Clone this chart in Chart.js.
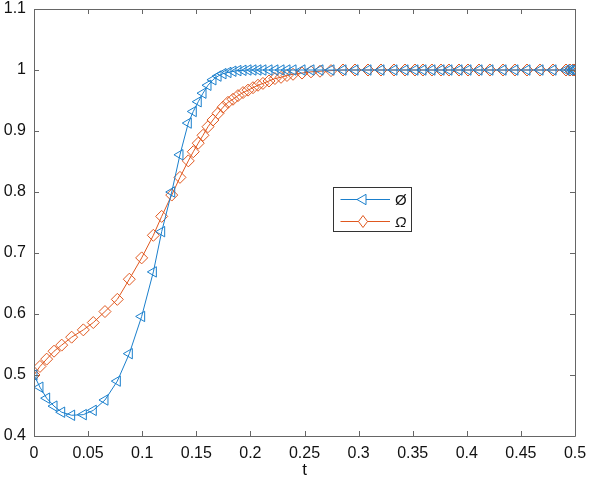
<!DOCTYPE html>
<html><head><meta charset="utf-8">
<script src="https://cdn.jsdelivr.net/npm/chart.js@4/dist/chart.umd.min.js"></script>
<style>html,body{margin:0;padding:0;background:#fff;} #wrap{width:590px;height:488px;}</style>
</head><body><div id="wrap"><canvas id="c" width="590" height="488"></canvas></div>
<script>
const tValues = [0, 0.0055, 0.0117, 0.0185, 0.0256, 0.0348, 0.0456, 0.0548, 0.0656, 0.0770,
  0.0881, 0.0995, 0.1103, 0.1180, 0.1273, 0.1349, 0.1426, 0.1472, 0.1518, 0.1562,
  0.1608, 0.1654, 0.1701, 0.1747, 0.1793, 0.1839, 0.1885, 0.1932, 0.1978, 0.2024,
  0.2070, 0.2116, 0.2172, 0.2227, 0.2283, 0.2338, 0.2394, 0.2477, 0.2560, 0.2643,
  0.2745, 0.2856, 0.2967, 0.3087, 0.3207, 0.3327, 0.3429, 0.3521, 0.3595, 0.3678,
  0.3762, 0.3835, 0.3928, 0.4011, 0.4113, 0.4214, 0.4335, 0.4445, 0.4556, 0.4677,
  0.4797, 0.4917, 0.4954, 0.4982, 0.5];
const phiValues = [0.5, 0.480, 0.462, 0.449, 0.439, 0.434, 0.435, 0.442, 0.459, 0.490,
  0.535, 0.596, 0.669, 0.735, 0.800, 0.861, 0.913, 0.932, 0.948, 0.962,
  0.975, 0.984, 0.990, 0.994, 0.996, 0.998, 0.999, 0.9995, 1, 1,
  1, 1, 1, 1, 1, 1, 1, 1, 1, 1,
  1, 1, 1, 1, 1, 1, 1, 1, 1, 1,
  1, 1, 1, 1, 1, 1, 1, 1, 1, 1,
  1, 1, 1, 1, 1];
const omegaValues = [0.5, 0.514, 0.526, 0.539, 0.549, 0.562, 0.574, 0.586, 0.604, 0.624,
  0.657, 0.692, 0.729, 0.760, 0.795, 0.824, 0.851, 0.866, 0.880, 0.893,
  0.907, 0.918, 0.929, 0.939, 0.947, 0.952, 0.958, 0.963, 0.967, 0.971,
  0.975, 0.978, 0.982, 0.986, 0.988, 0.991, 0.993, 0.995, 0.997, 0.998,
  0.999, 1, 1, 1, 1, 1, 1, 1, 1, 1,
  1, 1, 1, 1, 1, 1, 1, 1, 1, 1,
  1, 1, 1, 1, 1];
const xTicks = [0, 0.05, 0.1, 0.15, 0.2, 0.25, 0.3, 0.35, 0.4, 0.45, 0.5];
const yTicks = [0.4, 0.5, 0.6, 0.7, 0.8, 0.9, 1, 1.1];
const seriesLabels = ['Ø', 'Ω'];
const xTitle = 't';

const BLUE = '#1a7fcc';
const ORANGE = '#e0581f';
const AXIS = '#666666';
const FONT = 'Liberation Sans, Arial, sans-serif';

const toPts = (ys) => tValues.map((t, i) => ({x: t, y: ys[i]}));

const frame = {
  id: 'frame',
  afterDatasetsDraw(chart) {
    const {ctx, chartArea: a, scales} = chart;
    ctx.save();
    ctx.strokeStyle = AXIS;
    ctx.lineWidth = 1;
    ctx.beginPath();
    ctx.rect(Math.round(a.left) + 0.5, Math.round(a.top) + 0.5,
             Math.round(a.right - a.left), Math.round(a.bottom - a.top));
    const L = 5;
    xTicks.forEach(v => {
      const x = Math.round(scales.x.getPixelForValue(v)) + 0.5;
      ctx.moveTo(x, a.bottom); ctx.lineTo(x, a.bottom - L);
      ctx.moveTo(x, a.top); ctx.lineTo(x, a.top + L);
    });
    yTicks.forEach(v => {
      const y = Math.round(scales.y.getPixelForValue(v)) + 0.5;
      ctx.moveTo(a.left, y); ctx.lineTo(a.left + L, y);
      ctx.moveTo(a.right, y); ctx.lineTo(a.right - L, y);
    });
    ctx.stroke();

    // legend box
    const W = a.right - a.left, H = a.bottom - a.top;
    const bx = a.left + W * 0.5527, by = a.top + H * 0.417;
    const bw = 78, bh = 44;
    ctx.fillStyle = '#fff';
    ctx.fillRect(bx, by, bw, bh);
    ctx.strokeStyle = '#333';
    ctx.strokeRect(Math.round(bx) + 0.5, Math.round(by) + 0.5, bw, bh);
    const rows = [by + 11.5, by + 33.5];
    chart.data.datasets.forEach((ds, i) => {
      const y = Math.round(rows[i]) + 0.5;
      const x0 = bx + 7.5, x1 = bx + 57, xm = bx + 30;
      ctx.strokeStyle = ds.borderColor;
      ctx.lineWidth = 1;
      ctx.beginPath(); ctx.moveTo(x0, y); ctx.lineTo(x1, y); ctx.stroke();
      ctx.fillStyle = '#fff';
      ctx.beginPath();
      const r = 6;
      if (i === 0) {
        ctx.moveTo(xm - r, y);
        ctx.lineTo(xm + r / 2, y - r * 0.866);
        ctx.lineTo(xm + r / 2, y + r * 0.866);
      } else {
        ctx.moveTo(xm, y - r); ctx.lineTo(xm + r * 0.75, y);
        ctx.lineTo(xm, y + r); ctx.lineTo(xm - r * 0.75, y);
      }
      ctx.closePath(); ctx.fill(); ctx.stroke();
      ctx.fillStyle = '#111';
      ctx.font = (i === 0 ? '' : 'italic ') + '15px ' + FONT;
      ctx.textBaseline = 'middle';
      ctx.textAlign = 'left';
      ctx.fillText(ds.label, bx + 62, y + 1);
    });
    ctx.restore();
  }
};

new Chart(document.getElementById('c'), {
  type: 'line',
  data: {
    datasets: [
      {label: seriesLabels[0], data: toPts(phiValues), borderColor: BLUE, backgroundColor: 'transparent',
       borderWidth: 1, pointStyle: 'triangle', pointRotation: -90, pointRadius: 6,
       pointBorderColor: BLUE, pointBackgroundColor: 'rgba(0,0,0,0)', pointBorderWidth: 1, tension: 0},
      {label: seriesLabels[1], data: toPts(omegaValues), borderColor: ORANGE, backgroundColor: 'transparent',
       borderWidth: 1, pointStyle: 'rectRot', pointRadius: 6,
       pointBorderColor: ORANGE, pointBackgroundColor: 'rgba(0,0,0,0)', pointBorderWidth: 1, tension: 0}
    ]
  },
  options: {
    responsive: false,
    animation: false,
    devicePixelRatio: 1,
    layout: {padding: {top: 9, right: 15, left: 0, bottom: 0}},
    plugins: {legend: {display: false}, tooltip: {enabled: false}},
    elements: {line: {fill: false}},
    scales: {
      x: {
        type: 'linear', min: 0, max: 0.5,
        afterBuildTicks: s => { s.ticks = xTicks.map(v => ({value: v})); },
        afterFit: s => { s.height = 52; s.paddingLeft = 0; s.paddingRight = 0; },
        grid: {display: false, drawTicks: false},
        border: {display: false},
        ticks: {color: '#111', font: {family: FONT, size: 16}, padding: 8, maxRotation: 0,
                autoSkip: false, callback: v => String(v)},
        title: {display: true, text: xTitle, color: '#111', font: {family: FONT, size: 17},
                padding: {top: 0, bottom: 7}}
      },
      y: {
        type: 'linear', min: 0.4, max: 1.1,
        afterBuildTicks: s => { s.ticks = yTicks.map(v => ({value: v})); },
        afterFit: s => { s.width = 34; s.paddingTop = 0; s.paddingBottom = 0; },
        grid: {display: false, drawTicks: false},
        border: {display: false},
        ticks: {color: '#111', font: {family: FONT, size: 16}, padding: 8,
                autoSkip: false, callback: v => String(v)}
      }
    }
  },
  plugins: [frame]
});
</script>
</body></html>
